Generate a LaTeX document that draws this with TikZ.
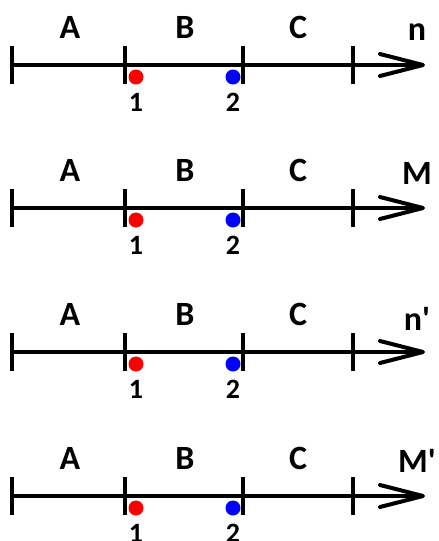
\documentclass[tikz,border=0pt]{standalone}
\usepackage{fontspec}
\setmainfont{Carlito}
\begin{document}
\begin{tikzpicture}[x=1pt,y=-1pt,
  axisline/.style={line width=4pt},
  tickline/.style={line width=4pt},
  chevron/.style={line width=4pt, line join=round, line cap=round},
  region/.style={font=\fontsize{34}{40}\selectfont\bfseries, inner sep=0pt},
  ptlabel/.style={font=\fontsize{28}{32}\selectfont\bfseries, inner sep=0pt},
  dot/.style={circle, inner sep=0pt, minimum size=15pt},
]
\useasboundingbox (0,0) rectangle (439,541);
\foreach \i/\y/\name/\dy in {1/65/n/33, 2/208/M/35, 3/352/n\textquotesingle/33, 4/496/M\textquotesingle/35} {
  % axis with its four ticks
  \coordinate (s\i) at (12,\y);
  \coordinate (e\i) at (423,\y);
  \draw[axisline] (s\i) -- (e\i);
  \foreach \x/\t in {12/a, 125/b, 243/c, 353/d} {
    \coordinate (t\t\i u) at (\x,\y-19);
    \coordinate (t\t\i d) at (\x,\y+19);
    \draw[tickline] (t\t\i u) -- (t\t\i d);
  }
  % open arrow head
  \coordinate (hu\i) at (380,\y-11);
  \coordinate (hd\i) at (380,\y+11);
  \draw[chevron] (hu\i) -- (e\i) -- (hd\i);
  % interval names
  \node[region] (A\i) at (70,\y-38) {A};
  \node[region] (B\i) at (185,\y-38) {B};
  \node[region] (C\i) at (298,\y-38) {C};
  \node[region] (N\i) at (417,\y-\dy) {\name};
  % the two points
  \node[dot, fill=red] (p\i) at (136,\y+12) {};
  \node[dot, fill=blue] (q\i) at (233,\y+12) {};
  \node[ptlabel] (pl\i) at (136,\y+37) {1};
  \node[ptlabel] (ql\i) at (233,\y+37) {2};
}
\end{tikzpicture}
\end{document}
